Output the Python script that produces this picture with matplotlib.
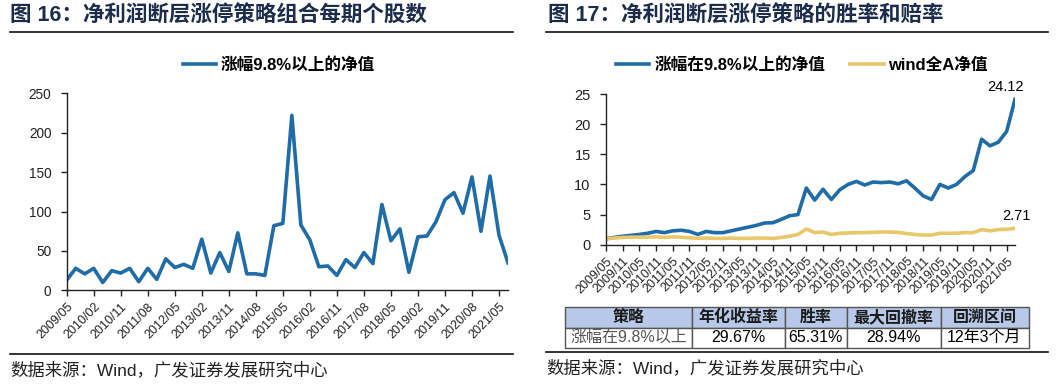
import matplotlib
matplotlib.use("Agg")
import matplotlib.pyplot as plt
from matplotlib.lines import Line2D

plt.rcParams["font.family"] = ["Liberation Sans", "Noto Sans CJK SC"]

W, H = 1061, 384

# quarterly periods 2009/05 .. 2021/08
dates = [f"{2009 + (4 + 3 * i) // 12}/{(4 + 3 * i) % 12 + 1:02d}" for i in range(50)]

stock_counts = [13, 28, 21, 28, 10, 25, 22, 28, 11, 28,
                14, 40, 29, 33, 28, 65, 22, 48, 24, 73,
                21, 21, 19, 82, 85, 222, 83, 64, 30, 31,
                19, 39, 29, 48, 34, 109, 63, 78, 23, 68,
                69, 87, 115, 124, 98, 144, 75, 145, 70, 35]

limit_up_nav = [1.0, 1.2, 1.4, 1.55, 1.7, 1.9, 2.2, 2.0, 2.3, 2.4,
                2.2, 1.7, 2.2, 2.0, 2.0, 2.3, 2.6, 2.9, 3.2, 3.6,
                3.65, 4.2, 4.8, 5.0, 9.4, 7.4, 9.2, 7.5, 9.1, 10.0,
                10.5, 9.9, 10.4, 10.3, 10.4, 10.1, 10.6, 9.4, 8.1, 7.5,
                10.0, 9.4, 10.0, 11.3, 12.3, 17.5, 16.4, 17.0, 18.8, 24.12]

wind_a_nav = [1.0, 1.1, 1.2, 1.25, 1.25, 1.25, 1.3, 1.2, 1.3, 1.25,
              1.15, 1.05, 1.1, 1.05, 1.05, 1.1, 1.05, 1.05, 1.1, 1.1,
              1.05, 1.2, 1.4, 1.7, 2.6, 2.0, 2.1, 1.7, 1.9, 1.95,
              2.0, 2.0, 2.05, 2.1, 2.1, 2.05, 1.85, 1.7, 1.6, 1.6,
              1.9, 1.9, 1.9, 2.0, 2.0, 2.5, 2.3, 2.5, 2.55, 2.71]

table_header = ["策略", "年化收益率", "胜率", "最大回撤率", "回溯区间"]
table_row = ["涨幅在9.8%以上", "29.67%", "65.31%", "28.94%", "12年3个月"]

blue = "#1f6ca8"
yellow = "#e8c86a"
navy = "#1c2c4c"

fig = plt.figure(figsize=(W / 100, H / 100), dpi=100)


def fx(px):
    return px / W


def fy(py):
    return 1 - py / H


def style_axis(ax, ysize):
    for s in ["top", "right"]:
        ax.spines[s].set_visible(False)
    for s in ["left", "bottom"]:
        ax.spines[s].set_linewidth(1.0)
        ax.spines[s].set_color("#222222")
    ax.tick_params(direction="out", length=4, width=1, colors="#222222")
    ax.tick_params(axis="y", labelsize=ysize, pad=7)


# ---- left chart ----
ax1 = fig.add_axes([fx(66.7), fy(290.4), fx(508 - 66.7), (290.4 - 93.3) / H])
x = list(range(len(dates)))
ax1.plot(x, stock_counts, color=blue, lw=2.6, label="涨幅9.8%以上的净值")
ax1.set_xlim(0, len(dates) - 1)
ax1.set_ylim(0, 250)
ax1.set_yticks([0, 50, 100, 150, 200, 250])
ax1.set_xticks(x[::3])
ax1.set_xticklabels(dates[::3], rotation=45, ha="right", rotation_mode="anchor", fontsize=9)
style_axis(ax1, 9.8)
ax1.legend(loc="center", bbox_to_anchor=(fx(279), fy(65)), bbox_transform=fig.transFigure,
           frameon=False, handlelength=2.0, handletextpad=0.3, prop={"size": 12, "weight": "bold"})

# ---- right chart ----
ax2 = fig.add_axes([fx(606), fy(244.7), fx(1015 - 606), (244.7 - 94) / H])
ax2.plot(x, limit_up_nav, color=blue, lw=2.6, label="涨幅在9.8%以上的净值")
ax2.plot(x, wind_a_nav, color=yellow, lw=2.6, label="wind全A净值")
ax2.set_xlim(0, len(dates) - 1)
ax2.set_ylim(0, 25)
ax2.set_yticks([0, 5, 10, 15, 20, 25])
ax2.set_xticks(x[::2])
ax2.set_xticklabels(dates[::2], rotation=45, ha="right", rotation_mode="anchor", fontsize=9)
style_axis(ax2, 10.5)
ax2.legend(loc="center", bbox_to_anchor=(fx(802), fy(65)), bbox_transform=fig.transFigure,
           frameon=False, ncol=2, handlelength=2.0, handletextpad=0.3, columnspacing=1.5,
           prop={"size": 12, "weight": "bold"})
ax2.annotate(f"{limit_up_nav[-1]:.2f}", (x[-1], limit_up_nav[-1]), xytext=(-7, 4),
             textcoords="offset points", ha="center", va="bottom", fontsize=10.5)
ax2.annotate(f"{wind_a_nav[-1]:.2f}", (x[-1], wind_a_nav[-1]), xytext=(1, 4),
             textcoords="offset points", ha="center", va="bottom", fontsize=10.5)

# ---- table ----
col_px = [126, 93, 62, 94, 88]
tax = fig.add_axes([fx(565.5), fy(348), fx(sum(col_px)), (348 - 307) / H])
tax.axis("off")
tbl = tax.table(cellText=[table_row], colLabels=table_header,
                colWidths=[c / sum(col_px) for c in col_px], bbox=[0, 0, 1, 1], cellLoc="center")
tbl.auto_set_font_size(False)
for (r, c), cell in tbl.get_celld().items():
    cell.set_edgecolor("#555555")
    cell.set_linewidth(1.0)
    cell.get_text().set_fontsize(11.5)
    if r == 0:
        cell.set_facecolor("#b7c8e8")
        cell.get_text().set_fontweight("bold")
        cell.get_text().set_color("#1a1a1a")
    elif c == 0:
        cell.get_text().set_color("#555555")

# ---- titles, rules, sources ----
fig.text(fx(10), fy(16), "图 16：净利润断层涨停策略组合每期个股数", fontsize=15.5,
         fontweight="bold", color=navy, va="center", ha="left")
fig.text(fx(548), fy(16), "图 17：净利润断层涨停策略的胜率和赔率", fontsize=15.5,
         fontweight="bold", color=navy, va="center", ha="left")
for x0, x1, yy in [(10, 513, 32), (546, 1048, 32), (10, 513, 354), (546, 1048, 352)]:
    fig.add_artist(Line2D([fx(x0), fx(x1)], [fy(yy), fy(yy)], transform=fig.transFigure,
                          color="#111111", lw=1.2))
fig.text(fx(10), fy(370), "数据来源：Wind，广发证券发展研究中心", fontsize=12.5,
         color="#222222", va="center", ha="left")
fig.text(fx(546), fy(368), "数据来源：Wind，广发证券发展研究中心", fontsize=12.5,
         color="#222222", va="center", ha="left")

fig.savefig("out.png", dpi=100)
